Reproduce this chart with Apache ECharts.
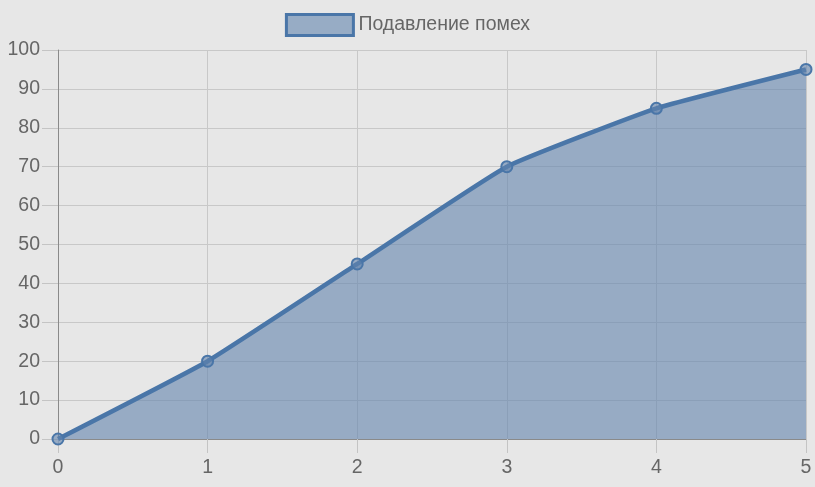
<!DOCTYPE html>
<html><head><meta charset="utf-8">
<script src="https://cdn.jsdelivr.net/npm/echarts@6/dist/echarts.min.js"></script>
<style>html,body{margin:0;padding:0;background:#e7e7e7}#c{width:815px;height:487px}</style>
</head><body><div id="c"></div>
<script>
const categories = ['0','1','2','3','4','5'];
const seriesName = 'Подавление помех';
const values = [0, 20, 45, 70, 85, 95];
const yMin = 0, yMax = 100, yStep = 10;

const chart = echarts.init(document.getElementById('c'));
const font = 'Liberation Sans, Arial, sans-serif';
chart.setOption({
  backgroundColor: '#e7e7e7',
  animation: false,
  textStyle: {fontFamily: font},
  legend: {
    top: 8, left: 'center',
    itemWidth: 67, itemHeight: 21, itemGap: 10,
    icon: 'rect',
    textStyle: {fontSize: 19.5, color: '#666', fontFamily: font},
    itemStyle: {color: '#97acc5', borderColor: '#4a76a8', borderWidth: 3},
    data: [seriesName]
  },
  grid: {left: 58, right: 9, top: 50, bottom: 48, containLabel: false},
  xAxis: {
    type: 'category', data: categories, boundaryGap: false,
    axisLine: {lineStyle: {color: '#8a8a8a', width: 1}},
    axisTick: {show: true, length: 14, lineStyle: {color: '#c4c4c4'}},
    axisLabel: {fontSize: 19.5, color: '#666', margin: 19, fontFamily: font},
    splitLine: {show: true, lineStyle: {color: '#c8c8c8', width: 1}}
  },
  yAxis: {
    type: 'value', min: yMin, max: yMax, interval: yStep,
    axisLine: {show: true, lineStyle: {color: '#8a8a8a', width: 1}},
    axisTick: {show: true, length: 16, lineStyle: {color: '#c4c4c4'}},
    axisLabel: {fontSize: 19.5, color: '#666', margin: 18, fontFamily: font},
    splitLine: {show: true, lineStyle: {color: '#c8c8c8', width: 1}}
  },
  series: [{
    name: seriesName, type: 'line', data: values, smooth: 0.12,
    symbol: 'circle', symbolSize: 11,
    lineStyle: {color: '#4a76a8', width: 4.5},
    itemStyle: {color: 'rgba(98,132,173,0.6)', borderColor: '#4a76a8', borderWidth: 2},
    areaStyle: {color: 'rgba(98,132,173,0.6)', opacity: 1}
  }]
});
</script></body></html>
